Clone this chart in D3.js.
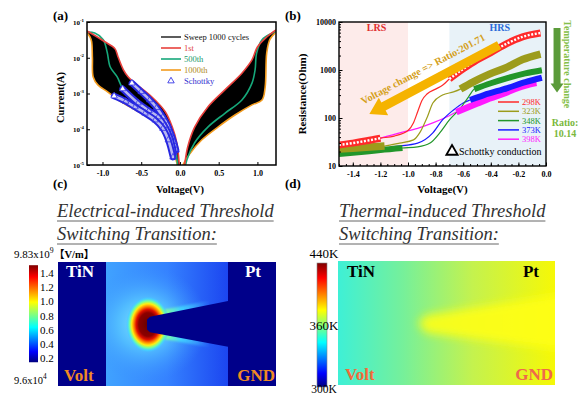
<!DOCTYPE html>
<html>
<head>
<meta charset="utf-8">
<script src="https://cdn.jsdelivr.net/npm/d3@7/dist/d3.min.js"></script>
<style>
html,body{margin:0;padding:0;background:#fff;}
svg{display:block;}
svg text{font-family:'Liberation Serif','DejaVu Serif',serif;}
svg text.cjk{font-family:'Liberation Serif','Noto Sans CJK SC',serif;}
</style>
</head>
<body>
<svg id="fig" width="582" height="396" viewBox="0 0 582 396" font-family="Liberation Serif, DejaVu Serif, serif"></svg>
<script>
// ================= DATA =================
// ---- Panel (a): I-V sweeps [Voltage (V), Current (A)] ----
const ivXTicks = [-1.0, -0.5, 0.0, 0.5, 1.0];
const ivYTicks = [1e-5, 1e-4, 1e-3, 1e-2, 1e-1];
const ivLegendLabels = ["Sweep 1000 cycles", "1st", "500th", "1000th", "Schottky"];
const iv1stNeg = [[-1.2,5.6e-2],[-1.1,4.2e-2],[-0.97,2.8e-2],[-0.84,1.8e-2],[-0.80,1.07e-2],[-0.73,4.6e-3],[-0.67,2.95e-3],[-0.60,2.1e-3],[-0.365,8.1e-4],[-0.19,3.1e-4],[-0.10,1.17e-4],[-0.04,4.1e-5],[-0.01,1.1e-5],[0.0,5e-6]];
const iv1stPos = [[0.04,5e-6],[0.06,1e-5],[0.10,3.2e-5],[0.19,1.15e-4],[0.36,4.2e-4],[0.58,1.26e-3],[0.80,3.7e-3],[0.93,8.7e-3],[1.0,2.0e-2],[1.12,3.8e-2],[1.24,6.0e-2]];
const iv500Neg = [[-1.2,5.2e-2],[-1.1,4.9e-2],[-0.99,3.2e-2],[-0.94,1.45e-2],[-0.90,5.5e-3],[-0.81,2.9e-3],[-0.74,1.4e-3],[-0.60,7.1e-4],[-0.45,4.2e-4],[-0.30,2.5e-4],[-0.19,1.5e-4],[-0.10,6.3e-5],[-0.06,3.2e-5],[-0.03,1.0e-5],[-0.02,5e-6]];
const iv500Pos = [[0.05,5e-6],[0.09,1.4e-5],[0.19,4.2e-5],[0.36,1.15e-4],[0.58,2.8e-4],[0.80,6.6e-4],[0.93,1.95e-3],[0.97,4.6e-3],[0.99,1.35e-2],[1.06,3.2e-2],[1.19,4.9e-2],[1.24,5.6e-2]];
const iv1000Neg = [[-1.2,5.0e-2],[-1.16,3.8e-2],[-1.14,2.8e-2],[-1.13,1.0e-2],[-1.12,2.9e-3],[-1.06,1.74e-3],[-0.93,1.1e-3],[-0.80,6.6e-4],[-0.58,3.5e-4],[-0.36,1.8e-4],[-0.19,7.9e-5],[-0.09,2.6e-5],[-0.04,1.15e-5],[-0.02,5e-6]];
const iv1000Pos = [[0.02,5e-6],[0.04,1e-5],[0.13,2.1e-5],[0.28,5e-5],[0.49,1.15e-4],[0.71,2.5e-4],[0.93,4.8e-4],[1.06,6.6e-4],[1.10,1.5e-3],[1.12,1.35e-2],[1.16,3.2e-2],[1.24,5.2e-2]];
const schottky1 = [[-0.62,1.95e-3],[-0.50,1.12e-3],[-0.39,6.6e-4],[-0.30,4.0e-4],[-0.22,2.2e-4],[-0.16,1.3e-4],[-0.12,7.9e-5],[-0.08,4.5e-5],[-0.05,2.6e-5]];
const schottky2 = [[-0.74,1.35e-3],[-0.54,5.4e-4],[-0.40,3.3e-4],[-0.28,2.2e-4],[-0.20,1.26e-4],[-0.13,6.0e-5],[-0.08,2.2e-5]];
const schottky3 = [[-0.85,8.5e-4],[-0.70,6.0e-4],[-0.58,4.2e-4],[-0.45,2.8e-4],[-0.32,1.8e-4],[-0.22,1.05e-4],[-0.15,5.0e-5],[-0.09,1.66e-5]];

// ---- Panel (b): R-V at temperatures [Voltage (V), Resistance (Ohm)] ----
const rvXTicks = [-1.4,-1.2,-1.0,-0.8,-0.6,-0.4,-0.2,0.0];
const rvYTicks = [10,100,1000,10000];
const rvTemps = ["298K","323K","348K","373K","398K"];
const rv298 = [[-1.5,27.5],[-1.4,30],[-1.3,33.5],[-1.2,38],[-1.1,42],[-1.0,55],[-0.96,80],[-0.93,135],[-0.90,230],[-0.86,320],[-0.80,400],[-0.75,480],[-0.70,650],[-0.6,1050],[-0.5,1620],[-0.4,2300],[-0.28,3600],[-0.17,4900],[-0.04,5900]];
const rv323 = [[-1.5,22.6],[-1.4,23.5],[-1.3,24.5],[-1.17,26],[-1.06,30],[-0.96,35],[-0.91,52],[-0.86,105],[-0.82,205],[-0.75,300],[-0.67,350],[-0.62,400],[-0.53,560],[-0.41,820],[-0.28,1150],[-0.17,1650],[-0.04,2150]];
const rv348 = [[-1.5,17.8],[-1.4,18.8],[-1.3,20],[-1.2,21.5],[-1.04,23.7],[-0.93,25],[-0.84,30],[-0.77,49],[-0.70,91],[-0.62,160],[-0.56,280],[-0.52,400],[-0.4,530],[-0.28,680],[-0.15,850],[-0.03,990]];
const rv373 = [[-1.2,22],[-1.11,25],[-0.93,30],[-0.82,49],[-0.75,91],[-0.67,147],[-0.60,205],[-0.55,237],[-0.45,300],[-0.28,420],[-0.15,560],[-0.03,690]];
const rv398 = [[-1.2,38],[-1.06,49],[-0.93,61],[-0.82,79],[-0.72,105],[-0.65,133],[-0.5,200],[-0.41,255],[-0.28,345],[-0.21,420],[-0.07,540]];
const rvLrsRange = [[-1.5,-1.2],[-1.5,-1.17],[-1.5,-1.04],null,null];
const rvHrsRange = [[-0.70,-0.04],[-0.62,-0.04],[-0.52,-0.03],[-0.55,-0.03],[-0.65,-0.07]];
const rvRegions = [{name:"LRS",from:-1.5,to:-1.0},{name:"HRS",from:-0.7,to:0.0}];
const voltArrow = {from:[-0.34,3300], to:[-1.28,121]};
const tempArrow = {v:0.08, from:7500, to:340};
const ratioVoltageText = "Voltage change => Ratio:201.71";
const ratioTempText = ["Ratio:", "10.14"];

// ---- Panels (c),(d): colour bar labels ----
const eFieldTicks = [0.2,0.4,0.6,0.8,1.0,1.2,1.4];
const eFieldTop = {base:"9.83x10", exp:"9", unit:"【V/m】"};
const eFieldBottom = {base:"9.6x10", exp:"4"};
const tempBarLabels = [440, 360, 300];

// ================= DRAWING =================
const svg = d3.select("#fig");
const defs = svg.append("defs");
function addClip(id, x, y, w, h) {
  defs.append("clipPath").attr("id", id).append("rect")
    .attr("x", x).attr("y", y).attr("width", w).attr("height", h);
}
function addLinGrad(id, stops, attrs) {
  const g = defs.append("linearGradient").attr("id", id);
  Object.entries(attrs).forEach(([k,v]) => g.attr(k, v));
  stops.forEach(s => g.append("stop").attr("offset", s[0]).attr("stop-color", s[1]).attr("stop-opacity", s[2] === undefined ? 1 : s[2]));
  return g;
}
function addRadGrad(id, stops) {
  const g = defs.append("radialGradient").attr("id", id);
  stops.forEach(s => g.append("stop").attr("offset", s[0]).attr("stop-color", s[1]).attr("stop-opacity", s[2] === undefined ? 1 : s[2]));
  return g;
}
function addBlur(id, sd) {
  defs.append("filter").attr("id", id).attr("x", "-50%").attr("y", "-50%").attr("width", "200%").attr("height", "200%")
    .append("feGaussianBlur").attr("stdDeviation", sd);
}
function supText(sel, base, exp, size) {
  sel.text(base);
  sel.append("tspan").attr("dy", -size * 0.45).attr("font-size", size * 0.7).text(exp);
}
function panelLabel(txt, x, y) {
  svg.append("text").attr("x", x).attr("y", y).attr("font-size", 13).attr("font-weight", "bold").text(txt);
}
function arrowPoly(x0, y0, x1, y1, bw, hw, hl) {
  const dx = x1 - x0, dy = y1 - y0, L = Math.hypot(dx, dy), ux = dx / L, uy = dy / L, nx = -uy, ny = ux;
  const bx = x1 - ux * hl, by = y1 - uy * hl;
  return [[x0+nx*bw,y0+ny*bw],[bx+nx*bw,by+ny*bw],[bx+nx*hw,by+ny*hw],[x1,y1],[bx-nx*hw,by-ny*hw],[bx-nx*bw,by-ny*bw],[x0-nx*bw,y0-ny*bw]];
}

// ---------- Panel (a) ----------
const A = {l: 87, r: 276, t: 22, b: 165};
const xA = d3.scaleLinear().domain([-1.2, 1.24]).range([A.l, A.r]);
const yA = d3.scaleLog().domain([1e-5, 1e-1]).range([A.b, A.t]);
addClip("clipA", A.l, A.t, A.r - A.l, A.b - A.t);
const gA = svg.append("g");
const gAc = gA.append("g").attr("clip-path", "url(#clipA)");
const lnA = d3.line().x(d => xA(d[0])).y(d => yA(d[1])).curve(d3.curveCatmullRom.alpha(0.5));
function bandPath(line, upper, lower) {
  const p1 = line(upper), p2 = line(lower.slice().reverse());
  return p1 + "L" + p2.slice(1) + "Z";
}
gAc.append("path").attr("d", bandPath(lnA, iv1stNeg, iv1000Neg)).attr("fill", "#000");
gAc.append("path").attr("d", bandPath(lnA, iv1stPos, iv1000Pos)).attr("fill", "#000");
const ivCol = {first: "#e8403c", mid: "#16a87a", last: "#f39c1f", schottky: "#2626e0"};
[[iv1000Neg, iv1000Pos, ivCol.last], [iv500Neg, iv500Pos, ivCol.mid], [iv1stNeg, iv1stPos, ivCol.first]].forEach(([n, p, c]) => {
  [n, p].forEach(d => gAc.append("path").attr("d", lnA(d)).attr("fill", "none").attr("stroke", c).attr("stroke-width", 1.6));
});
const tri = d3.symbol().type(d3.symbolTriangle);
[schottky1, schottky2, schottky3].forEach(s => {
  gAc.append("path").attr("d", lnA(s)).attr("fill", "none").attr("stroke", ivCol.schottky).attr("stroke-width", 6.5).attr("stroke-linecap", "round");
  gAc.append("path").attr("d", lnA(s)).attr("fill", "none").attr("stroke", "#b8b8f0").attr("stroke-width", 2.6).attr("stroke-linecap", "round");
  gAc.selectAll(null).data(s).join("path").attr("d", tri.size(18)())
    .attr("transform", d => `translate(${xA(d[0])},${yA(d[1])})`)
    .attr("fill", (d, i) => i === 0 ? "#fff" : "none").attr("stroke", "#3535e6").attr("stroke-width", 0.8);
});
gA.append("rect").attr("x", A.l).attr("y", A.t).attr("width", A.r - A.l).attr("height", A.b - A.t)
  .attr("fill", "none").attr("stroke", "#000").attr("stroke-width", 1.5);
const axAx = gA.append("g").attr("transform", `translate(0,${A.b})`)
  .call(d3.axisBottom(xA).tickValues(ivXTicks).tickSizeInner(-3).tickSizeOuter(0).tickPadding(5).tickFormat(d => d.toFixed(1)));
axAx.select(".domain").remove();
axAx.attr("font-family", null);
axAx.selectAll("text").attr("font-size", 8).attr("font-weight", "bold");
const axAy = gA.append("g").attr("transform", `translate(${A.l},0)`)
  .call(d3.axisLeft(yA).tickValues(ivYTicks).tickSizeInner(-3).tickSizeOuter(0).tickPadding(3).tickFormat(() => ""));
axAy.select(".domain").remove();
axAy.attr("font-family", null);
axAy.selectAll("text").attr("font-size", 7).attr("font-weight", "bold")
  .each(function(d) { supText(d3.select(this), "10", String(Math.round(Math.log10(d))), 7); });
gA.append("text").attr("transform", `translate(64,${(A.t + A.b) / 2 + 4}) rotate(-90)`).attr("text-anchor", "middle")
  .attr("font-size", 10.5).attr("font-weight", "bold").text("Current(A)");
gA.append("text").attr("x", xA(0)).attr("y", 193).attr("text-anchor", "middle")
  .attr("font-size", 10.5).attr("font-weight", "bold").text("Voltage(V)");
// legend (a)
const legA = [
  {stroke: "#333", text: "#111"},
  {stroke: ivCol.first, text: "#e04040"},
  {stroke: ivCol.mid, text: "#1a9a6a"},
  {stroke: ivCol.last, text: "#b08a1a"},
  {symbol: true, text: "#3030d0"}
];
legA.forEach((it, i) => {
  const y = 37 + i * 11;
  if (it.symbol) {
    gA.append("path").attr("d", tri.size(18)()).attr("transform", `translate(171,${y})`).attr("fill", "none").attr("stroke", "#3535e6").attr("stroke-width", 0.9);
  } else {
    gA.append("line").attr("x1", 161).attr("x2", 181).attr("y1", y).attr("y2", y).attr("stroke", it.stroke).attr("stroke-width", 1.6);
  }
  gA.append("text").attr("x", 184).attr("y", y + 3).attr("font-size", 8.5).attr("fill", it.text).text(ivLegendLabels[i]);
});

// ---------- Panel (b) ----------
const B = {l: 339, r: 546, t: 22, b: 166};
const xB = d3.scaleLinear().domain([-1.5, 0]).range([B.l, B.r]);
const yB = d3.scaleLog().domain([10, 10000]).range([B.b, B.t]);
addClip("clipB", B.l, B.t, B.r - B.l, B.b - B.t);
const gB = svg.append("g");
const gBc = gB.append("g").attr("clip-path", "url(#clipB)");
const regionFill = {LRS: "#fdebea", HRS: "#e8f2f8"};
const regionText = {LRS: "#e03030", HRS: "#2a6ad8"};
rvRegions.forEach(r => {
  gBc.append("rect").attr("x", xB(r.from)).attr("y", B.t).attr("width", xB(r.to) - xB(r.from)).attr("height", B.b - B.t).attr("fill", regionFill[r.name]);
  gB.append("text").attr("x", (xB(r.from) + xB(r.to)) / 2 + (r.name === "LRS" ? 3 : 2)).attr("y", 31).attr("text-anchor", "middle")
    .attr("font-size", 10).attr("font-weight", "bold").attr("fill", regionText[r.name]).text(r.name);
});
const rvSeries = [rv298, rv323, rv348, rv373, rv398];
const rvColors = ["#ff2a2a", "#9c9c1c", "#22962a", "#1a1aff", "#ff1aff"];
const rvBandW = [7, 7.5, 6, 6, 6.5];
const lnB = d3.line().x(d => xB(d[0])).y(d => yB(d[1])).curve(d3.curveMonotoneX);
for (let i = rvSeries.length - 1; i >= 0; i--) {
  gBc.append("path").attr("d", lnB(rvSeries[i])).attr("fill", "none").attr("stroke", rvColors[i]).attr("stroke-width", 1.2);
}
for (let i = rvSeries.length - 1; i >= 0; i--) {
  [rvLrsRange[i], rvHrsRange[i]].forEach(r => {
    if (!r) return;
    const seg = rvSeries[i].filter(d => d[0] >= r[0] - 1e-9 && d[0] <= r[1] + 1e-9);
    gBc.append("path").attr("d", lnB(seg)).attr("fill", "none").attr("stroke", rvColors[i]).attr("stroke-width", rvBandW[i]).attr("stroke-linecap", "butt");
    if (i === 0) {
      gBc.append("path").attr("d", lnB(seg)).attr("fill", "none").attr("stroke", "#fff").attr("stroke-width", 2.4).attr("stroke-dasharray", "2,1.6");
    }
  });
}
// voltage arrow & text
const vA0 = [xB(voltArrow.from[0]), yB(voltArrow.from[1])], vA1 = [xB(voltArrow.to[0]), yB(voltArrow.to[1])];
gB.append("polygon").attr("points", arrowPoly(vA0[0], vA0[1], vA1[0], vA1[1], 4.5, 10, 16).map(p => p.join(",")).join(" ")).attr("fill", "#f5b300");
const vAng = Math.atan2(vA0[1] - vA1[1], vA0[0] - vA1[0]) * 180 / Math.PI;
const vu = [Math.cos(vAng * Math.PI / 180), Math.sin(vAng * Math.PI / 180)];
const vn = [vu[1], -vu[0]];
const vTx = vA1[0] + vn[0] * 11 - vu[0] * 1, vTy = vA1[1] + vn[1] * 11 - vu[1] * 1;
gB.append("text").attr("transform", `translate(${vTx},${vTy}) rotate(${vAng})`).attr("font-size", 10.3).attr("font-weight", "bold")
  .attr("fill", "#d4a020").text(ratioVoltageText);
// frame and axes
gB.append("rect").attr("x", B.l).attr("y", B.t).attr("width", B.r - B.l).attr("height", B.b - B.t)
  .attr("fill", "none").attr("stroke", "#000").attr("stroke-width", 1.4);
const minorX = d3.range(-30, 1).map(k => k * 0.05);
const axBxm = gB.append("g").attr("transform", `translate(0,${B.b})`).call(d3.axisBottom(xB).tickValues(minorX).tickSizeInner(-2).tickSizeOuter(0).tickFormat(""));
axBxm.select(".domain").remove();
const axBx = gB.append("g").attr("transform", `translate(0,${B.b})`)
  .call(d3.axisBottom(xB).tickValues(rvXTicks).tickSizeInner(-3.5).tickSizeOuter(0).tickPadding(5).tickFormat(d => d.toFixed(1)));
axBx.select(".domain").remove();
axBx.attr("font-family", null);
axBx.selectAll("text").attr("font-size", 8).attr("font-weight", "bold");
const axBym = gB.append("g").attr("transform", `translate(${B.l},0)`).call(d3.axisLeft(yB).tickValues(yB.ticks()).tickSizeInner(-2).tickSizeOuter(0).tickFormat(""));
axBym.select(".domain").remove();
const axBy = gB.append("g").attr("transform", `translate(${B.l},0)`)
  .call(d3.axisLeft(yB).tickValues(rvYTicks).tickSizeInner(-3.5).tickSizeOuter(0).tickPadding(3).tickFormat(d => String(d)));
axBy.select(".domain").remove();
axBy.attr("font-family", null);
axBy.selectAll("text").attr("font-size", 8).attr("font-weight", "bold");
gB.append("text").attr("transform", `translate(306,${(B.t + B.b) / 2}) rotate(-90)`).attr("text-anchor", "middle")
  .attr("font-size", 11).attr("font-weight", "bold").text("Resistance(Ohm)");
gB.append("text").attr("x", (B.l + B.r) / 2).attr("y", 193).attr("text-anchor", "middle")
  .attr("font-size", 11).attr("font-weight", "bold").text("Voltage(V)");
// legend (b)
rvTemps.forEach((t, i) => {
  const y = 102 + i * 9.3;
  gB.append("line").attr("x1", 498).attr("x2", 519).attr("y1", y).attr("y2", y).attr("stroke", rvColors[i]).attr("stroke-width", 1.5);
  gB.append("text").attr("x", 522).attr("y", y + 3).attr("font-size", 8.5).attr("fill", rvColors[i]).text(t);
});
gB.append("path").attr("d", tri.size(55)()).attr("transform", "translate(452,151.5)").attr("fill", "#fff").attr("stroke", "#000").attr("stroke-width", 1.8);
gB.append("text").attr("x", 459).attr("y", 155).attr("font-size", 10).text("Schottky conduction");
// temperature arrow & text
const tx = xB(tempArrow.v);
gB.append("polygon").attr("points", arrowPoly(tx, yB(tempArrow.from), tx, yB(tempArrow.to), 3.5, 6.5, 9).map(p => p.join(",")).join(" ")).attr("fill", "#5b9b3a");
gB.append("text").attr("transform", `translate(${tx + 7},${(yB(tempArrow.from) + yB(tempArrow.to)) / 2 + 4}) rotate(90)`).attr("text-anchor", "middle")
  .attr("font-size", 10).attr("font-weight", "bold").attr("fill", "#86bf4a").text("Temperature change");
ratioTempText.forEach((t, i) => {
  gB.append("text").attr("x", 565).attr("y", 126 + i * 11).attr("text-anchor", "middle")
    .attr("font-size", 10).attr("font-weight", "bold").attr("fill", "#7ab83c").text(t);
});

// ---------- jet colour gradient ----------
const jetStops = [[0, "#00007f"], [0.11, "#0000ff"], [0.36, "#00ffff"], [0.62, "#ffff00"], [0.88, "#ff0000"], [1, "#7f0000"]];
addLinGrad("jetV", jetStops, {x1: 0, y1: 1, x2: 0, y2: 0});
addBlur("blur1", 1.2);
addBlur("blur5", 5);

// ---------- Panel (c) ----------
const C = {l: 58, r: 276, t: 262, b: 386, tinR: 106, ptL: 228};
const navy = "#00008a";
addClip("clipC", C.l, C.t, C.r - C.l, C.b - C.t);
addLinGrad("fieldBg", [[0, "#40a2ff"], [0.5, "#3582ff"], [1, "#1c46f0"]], {x1: 0, y1: 0, x2: 1, y2: 0});
addRadGrad("glowC", [[0, "#8ff0ff"], [0.45, "#58c8ff", 0.75], [1, "#3a90ff", 0]]);
addRadGrad("hotC", [[0, "#660000"], [0.42, "#8c0000"], [0.54, "#e01000"], [0.64, "#ff8000"], [0.74, "#ffee10"], [0.84, "#70ffa0"], [0.93, "#40d8ff", 0.6], [1, "#40c0ff", 0]]);
addLinGrad("haloC", [[0, "#ff7000"], [0.15, "#ffd800"], [0.32, "#80ffa0"], [0.55, "#40d0ff"], [1, "#40c0ff", 0]], {gradientUnits: "userSpaceOnUse", x1: 145, y1: 0, x2: 210, y2: 0});
const gC = svg.append("g").attr("clip-path", "url(#clipC)");
gC.append("rect").attr("x", C.tinR).attr("y", C.t).attr("width", C.ptL - C.tinR).attr("height", C.b - C.t).attr("fill", "url(#fieldBg)");
gC.append("ellipse").attr("cx", 146).attr("cy", 324).attr("rx", 62).attr("ry", 58).attr("fill", "url(#glowC)");
const coneC = [[C.ptL, 301], [150, 316.7], [147, 319.5], [147, 329.5], [150, 332.3], [C.ptL, 346.7]];
gC.append("polygon").attr("points", coneC.map(p => p.join(",")).join(" ")).attr("fill", "none").attr("stroke", "url(#haloC)").attr("stroke-width", 8).attr("filter", "url(#blur1)");
gC.append("ellipse").attr("cx", 148).attr("cy", 324.5).attr("rx", 22).attr("ry", 28).attr("fill", "url(#hotC)");
gC.append("polygon").attr("points", coneC.map(p => p.join(",")).join(" ")).attr("fill", navy);
gC.append("rect").attr("x", C.ptL).attr("y", C.t).attr("width", C.r - C.ptL).attr("height", C.b - C.t).attr("fill", navy);
gC.append("rect").attr("x", C.l).attr("y", C.t).attr("width", C.tinR - C.l).attr("height", C.b - C.t).attr("fill", navy);
const lblC = [{t: "TiN", x: 66, y: 277, a: "start", c: "#fff"}, {t: "Pt", x: 261, y: 277, a: "end", c: "#fff"},
  {t: "Volt", x: 64, y: 381, a: "start", c: "#f08a24"}, {t: "GND", x: 275, y: 381, a: "end", c: "#f08a24"}];
lblC.forEach(l => svg.append("text").attr("x", l.x).attr("y", l.y).attr("text-anchor", l.a).attr("font-size", 17).attr("font-weight", "bold").attr("fill", l.c).text(l.t));
// colour bar (c)
const cbC = d3.scaleLinear().domain([0.2, 1.4]).range([358, 273]);
svg.append("rect").attr("x", 29).attr("y", cbC(1.51)).attr("width", 9).attr("height", cbC(0.14) - cbC(1.51)).attr("fill", "url(#jetV)");
svg.selectAll(".cbct").data(eFieldTicks).join("text").attr("x", 40).attr("y", d => cbC(d) + 4).attr("font-size", 11).text(d => d.toFixed(1));
supText(svg.append("text").attr("x", 14).attr("y", 258).attr("font-size", 11), eFieldTop.base, eFieldTop.exp, 11);
svg.append("text").attr("class", "cjk").attr("x", 54).attr("y", 258).attr("font-size", 10.5).attr("font-weight", "bold").text(eFieldTop.unit);
supText(svg.append("text").attr("x", 14).attr("y", 384).attr("font-size", 10.5), eFieldBottom.base, eFieldBottom.exp, 10.5);
// titles
const titles = [
  {x: 57, lines: ["Electrical-induced Threshold", "Switching Transition:"]},
  {x: 339, lines: ["Thermal-induced Threshold", "Switching Transition:"]}
];
titles.forEach(tt => {
  tt.lines.forEach((s, i) => {
    const t = svg.append("text").attr("x", tt.x).attr("y", 217 + i * 23).attr("font-size", 18.5).attr("font-style", "italic").attr("fill", "#333").text(s);
    const w = t.node().getComputedTextLength();
    svg.append("line").attr("x1", tt.x).attr("x2", tt.x + w).attr("y1", 221 + i * 23).attr("y2", 221 + i * 23).attr("stroke", "#666").attr("stroke-width", 1);
  });
});

// ---------- Panel (d) ----------
const D = {l: 338, r: 555, t: 261, b: 385};
addClip("clipD", D.l, D.t, D.r - D.l, D.b - D.t);
addLinGrad("thermBg", [[0, "#3ef0d6"], [0.3, "#76f09a"], [0.62, "#c4f24e"], [1, "#f6f806"]], {x1: 0, y1: 0, x2: 1, y2: 0});
const gD = svg.append("g").attr("clip-path", "url(#clipD)");
gD.append("rect").attr("x", D.l).attr("y", D.t).attr("width", D.r - D.l).attr("height", D.b - D.t).attr("fill", "url(#thermBg)");
const coneD = [[418, 323], [426, 315], [D.r + 10, 294], [D.r + 10, 350], [426, 333]];
gD.append("polygon").attr("points", coneD.map(p => p.join(",")).join(" ")).attr("fill", "#ffff18").attr("opacity", 0.9).attr("filter", "url(#blur5)");
const lblD = [{t: "TiN", x: 347, y: 277, a: "start", c: "#000"}, {t: "Pt", x: 539, y: 277, a: "end", c: "#000"},
  {t: "Volt", x: 345, y: 380, a: "start", c: "#f26b3a"}, {t: "GND", x: 553, y: 380, a: "end", c: "#f0684a"}];
lblD.forEach(l => svg.append("text").attr("x", l.x).attr("y", l.y).attr("text-anchor", l.a).attr("font-size", 17).attr("font-weight", "bold").attr("fill", l.c).text(l.t));
const cbD = d3.scaleLinear().domain([300, 440]).range([387, 263]);
svg.append("rect").attr("x", 317).attr("y", cbD(440)).attr("width", 10).attr("height", cbD(300) - cbD(440)).attr("fill", "url(#jetV)").attr("stroke", "#888").attr("stroke-width", 0.6);
const tempLblOffset = {440: -5, 360: -4, 300: 6};
tempBarLabels.forEach(v => {
  svg.append("text").attr("x", 324).attr("y", cbD(v) + tempLblOffset[v]).attr("text-anchor", "middle").attr("font-size", v === 300 ? 11.5 : 13).text(v + "K");
});

// panel letters
panelLabel("(a)", 53, 20);
panelLabel("(b)", 285, 20);
panelLabel("(c)", 53, 188);
panelLabel("(d)", 285, 188);
</script>
</body>
</html>
